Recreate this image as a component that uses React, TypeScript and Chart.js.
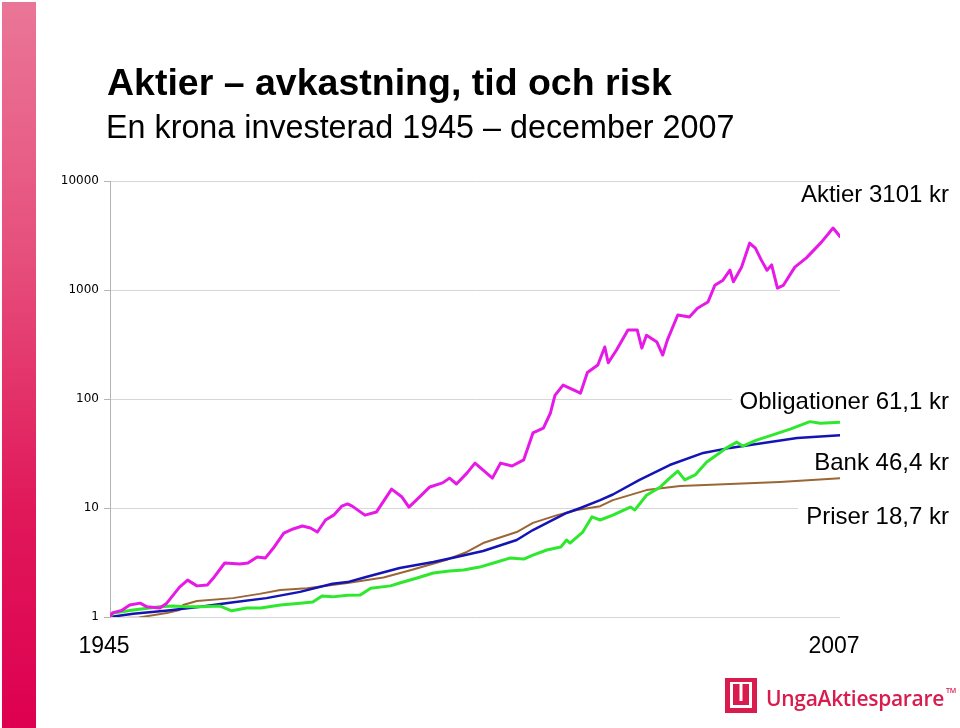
import React, { useEffect, useRef } from "react";
import { Chart, registerables } from "chart.js";

Chart.register(...registerables);

const FONT = '"Liberation Sans", Arial, Helvetica, sans-serif';

const titleText = "Aktier \u2013 avkastning, tid och risk";
const subtitleText = "En krona investerad 1945 \u2013 december 2007";

const yTickValues = [1, 10, 100, 1000, 10000];
const xTickYears = [1945, 2008];
const xTickLabels = ["1945", "2007"];

const seriesNames = ["Aktier", "Obligationer", "Bank", "Priser"];
const endLabels = ["Aktier 3101 kr", "Obligationer 61,1 kr", "Bank 46,4 kr", "Priser 18,7 kr"];
const seriesColors = ["#e619e6", "#2ee82e", "#1414b4", "#9a6636"];

const aktierYears = [
  1945.0, 1945.2, 1946.0, 1946.7, 1947.6, 1948.2, 1949.3, 1949.9, 1951.0, 1951.7,
  1952.5, 1953.4, 1954.0, 1954.9, 1956.2, 1956.9, 1957.7, 1958.4, 1959.1, 1960.0,
  1960.8, 1961.6, 1962.3, 1962.9, 1963.6, 1964.3, 1965.0, 1965.5, 1965.9, 1967.0,
  1968.0, 1969.3, 1970.2, 1970.8, 1971.7, 1972.6, 1973.7, 1974.3, 1974.9, 1975.8,
  1976.5, 1977.2, 1978.0, 1978.7, 1979.7, 1980.7, 1981.5, 1982.4, 1983.0, 1983.4,
  1984.1, 1985.0, 1985.6, 1986.2, 1987.1, 1987.7, 1988.0, 1988.7, 1989.7, 1990.5,
  1990.9, 1991.3, 1992.2, 1992.7, 1993.1, 1994.0, 1995.0, 1995.7, 1996.6, 1997.2,
  1997.9, 1998.5, 1998.8, 1999.5, 2000.2, 2000.7, 2001.2, 2001.7, 2002.1, 2002.6,
  2003.1, 2004.1, 2005.1, 2006.4, 2007.4, 2008.0,
];
const aktierValues = [
  1.0, 1.09, 1.15, 1.29, 1.34, 1.24, 1.21, 1.34, 1.88, 2.18,
  1.93, 1.97, 2.33, 3.13, 3.06, 3.13, 3.55, 3.47, 4.29, 5.89,
  6.42, 6.83, 6.55, 6.02, 7.76, 8.6, 10.4, 10.9, 10.4, 8.6,
  9.2, 14.9, 12.6, 10.2, 12.6, 15.6, 17.0, 18.8, 16.6, 20.9,
  25.8, 22.3, 18.8, 25.8, 24.3, 27.6, 48.8, 54, 74, 108,
  134, 121, 113, 175, 205, 300, 215, 280, 430, 430,
  293, 385, 333, 253, 347, 590, 565, 680, 775, 1105,
  1230, 1520, 1190, 1620, 2690, 2420, 1890, 1520, 1700, 1040,
  1100, 1620, 1970, 2750, 3700, 3101,
];

const obligYears = [
  1945.0, 1945.3, 1947.0, 1949.3, 1950.4, 1951.6, 1952.8, 1954.5, 1955.5, 1956.8,
  1958.0, 1959.7, 1961.4, 1962.5, 1963.3, 1964.2, 1965.5, 1966.6, 1967.5, 1969.2,
  1970.0, 1971.5, 1972.9, 1974.3, 1975.5, 1976.9, 1978.1, 1979.5, 1980.7, 1981.5,
  1982.7, 1983.9, 1984.4, 1984.7, 1985.8, 1986.6, 1987.3, 1988.4, 1989.9, 1990.3,
  1991.3, 1992.5, 1993.3, 1994.0, 1994.6, 1995.5, 1996.5, 1997.6, 1998.2, 1999.1,
  1999.6, 2000.8, 2002.2, 2003.7, 2005.4, 2006.3, 2008.0,
];
const obligValues = [
  1.0, 1.09, 1.16, 1.24, 1.26, 1.24, 1.24, 1.26, 1.14, 1.21,
  1.21, 1.29, 1.34, 1.37, 1.56, 1.53, 1.58, 1.59, 1.84, 1.93,
  2.05, 2.28, 2.53, 2.64, 2.70, 2.87, 3.13, 3.47, 3.40, 3.70,
  4.12, 4.38, 5.09, 4.77, 6.02, 8.3, 7.76, 8.6, 10.2, 9.6,
  13.1, 15.6, 18.8, 21.8, 18.1, 20.1, 26.4, 32, 35.6, 40.2,
  37, 42, 46.8, 53, 62, 60, 61.1,
];

const bankYears = [
  1945.0, 1947.0, 1950.0, 1952.8, 1955.5, 1958.5, 1961.4, 1964.2, 1965.5, 1967.1,
  1970.0, 1972.9, 1974.9, 1977.2, 1980.1, 1981.5, 1984.4, 1985.6, 1987.3, 1988.4,
  1990.7, 1993.3, 1996.2, 1998.5, 2001.4, 2004.3, 2008.0,
];
const bankValues = [
  1.0, 1.07, 1.15, 1.24, 1.36, 1.49, 1.70, 2.02, 2.09, 2.33,
  2.82, 3.2, 3.55, 4.03, 5.09, 6.28, 9.0, 10.0, 11.8, 13.3,
  18.1, 24.8, 32, 35.6, 39.4, 43.9, 46.4,
];

const priserYears = [
  1945.0, 1946.0, 1947.5, 1949.9, 1951.0, 1951.3, 1952.5, 1955.6, 1957.9, 1959.7,
  1962.0, 1965.5, 1968.6, 1971.0, 1974.0, 1975.8, 1977.2, 1980.1, 1981.5, 1983.6,
  1985.3, 1987.3, 1988.4, 1991.3, 1994.2, 1998.5, 2002.8, 2008.0,
];
const priserValues = [
  1.0, 0.98, 0.99, 1.09, 1.16, 1.29, 1.40, 1.49, 1.63, 1.77,
  1.84, 2.05, 2.3, 2.7, 3.33, 3.95, 4.77, 6.02, 7.3, 8.6,
  9.6, 10.4, 11.8, 14.6, 15.9, 16.6, 17.3, 18.7,
];

const toPoints = (xs: number[], ys: number[]) => xs.map((x, i) => ({ x, y: ys[i] }));

const labelBox: React.CSSProperties = {
  position: "absolute",
  right: 11,
  fontFamily: FONT,
  fontSize: 24,
  lineHeight: "24px",
  color: "#000",
  background: "#fff",
  paddingLeft: 8,
  whiteSpace: "nowrap",
};

function Logo() {
  return (
    <div style={{ position: "absolute", left: 725, top: 678, width: 230, height: 40 }}>
      <svg width="32" height="35" style={{ position: "absolute", left: 0, top: 0 }}>
        <rect x="0" y="0" width="32" height="35" fill="#d91c4d" />
        <rect x="5" y="4" width="3" height="26" fill="#fff" />
        <rect x="24" y="4" width="3" height="26" fill="#fff" />
        <rect x="5" y="27" width="22" height="3" fill="#fff" />
        <rect x="14.5" y="4" width="3" height="19" fill="#fff" />
        <rect x="8" y="4" width="16" height="2" fill="#fff" />
      </svg>
      <div
        style={{
          position: "absolute",
          left: 41,
          top: 8,
          fontFamily: '"Open Sans", sans-serif',
          fontWeight: 600,
          fontSize: 21,
          lineHeight: "24px",
          color: "#d91c4d",
          letterSpacing: -0.3,
          whiteSpace: "nowrap",
        }}
      >
        UngaAktiesparare
        <span style={{ fontSize: 7, verticalAlign: "top", marginLeft: 2, lineHeight: "10px" }}>TM</span>
      </div>
    </div>
  );
}

export default function App() {
  const canvasRef = useRef<HTMLCanvasElement | null>(null);

  useEffect(() => {
    const canvas = canvasRef.current;
    if (!canvas) return;
    const dataSets = [
      toPoints(aktierYears, aktierValues),
      toPoints(obligYears, obligValues),
      toPoints(bankYears, bankValues),
      toPoints(priserYears, priserValues),
    ];
    const widths = [3, 3, 2.5, 2];
    const chart = new Chart(canvas, {
      type: "line",
      data: {
        datasets: seriesNames.map((name, i) => ({
          label: name,
          data: dataSets[i],
          borderColor: seriesColors[i],
          backgroundColor: seriesColors[i],
          borderWidth: widths[i],
          pointRadius: 0,
          tension: 0,
          fill: false,
          borderJoinStyle: "round" as const,
          borderCapStyle: "round" as const,
        })),
      },
      options: {
        animation: false,
        responsive: false,
        devicePixelRatio: 1,
        layout: { padding: { left: 0, right: 120, top: 181, bottom: 0 } },
        plugins: {
          legend: { display: false },
          title: { display: false },
          tooltip: { enabled: false },
        },
        scales: {
          x: {
            type: "linear",
            min: 1945,
            max: 2008,
            afterBuildTicks: (scale: any) => {
              scale.ticks = xTickYears.map((v) => ({ value: v }));
            },
            afterFit: (scale: any) => {
              scale.height = 111;
            },
            grid: { display: false, drawTicks: false },
            border: { display: false },
            ticks: {
              autoSkip: false,
              maxRotation: 0,
              minRotation: 0,
              padding: 16,
              labelOffset: -6,
              color: "#000",
              font: { family: FONT, size: 23 },
              callback: (value: any) => {
                const idx = xTickYears.indexOf(Number(value));
                return idx >= 0 ? xTickLabels[idx] : "";
              },
            },
          },
          y: {
            type: "logarithmic",
            min: 1,
            max: 10000,
            afterBuildTicks: (scale: any) => {
              scale.ticks = yTickValues.map((v) => ({ value: v }));
            },
            afterFit: (scale: any) => {
              scale.width = 110;
            },
            grid: {
              color: "#d6d6d6",
              lineWidth: 1,
              tickLength: 6,
              tickColor: "#b4b4b4",
            },
            border: { display: true, color: "#b4b4b4", width: 1 },
            ticks: {
              autoSkip: false,
              padding: 5,
              color: "#000",
              font: { family: '"DejaVu Sans", Verdana, sans-serif', size: 12 },
              callback: (value: any) => String(value),
            },
          },
        },
      },
    });
    return () => chart.destroy();
  }, []);

  return (
    <div
      style={{
        position: "absolute",
        left: 0,
        top: 0,
        width: 960,
        height: 728,
        background: "#fff",
        overflow: "hidden",
      }}
    >
      <div
        style={{
          position: "absolute",
          left: 2,
          top: 2,
          width: 34,
          height: 726,
          background: "linear-gradient(to bottom, #ea7697 0%, #e64f7c 35%, #e0185a 70%, #de0050 100%)",
        }}
      />
      <canvas
        ref={canvasRef}
        width={960}
        height={728}
        style={{ position: "absolute", left: 0, top: 0, width: 960, height: 728 }}
      />
      <div
        style={{
          position: "absolute",
          left: 107,
          top: 64,
          fontFamily: FONT,
          fontWeight: 700,
          fontSize: 37.5,
          lineHeight: "37px",
          color: "#000",
          whiteSpace: "nowrap",
        }}
      >
        {titleText}
      </div>
      <div
        style={{
          position: "absolute",
          left: 106,
          top: 111,
          fontFamily: FONT,
          fontSize: 32.3,
          lineHeight: "32px",
          color: "#000",
          whiteSpace: "nowrap",
        }}
      >
        {subtitleText}
      </div>
      <div style={{ ...labelBox, top: 182 }}>{endLabels[0]}</div>
      <div style={{ ...labelBox, top: 389 }}>{endLabels[1]}</div>
      <div style={{ ...labelBox, top: 450 }}>{endLabels[2]}</div>
      <div style={{ ...labelBox, top: 504 }}>{endLabels[3]}</div>
      <Logo />
    </div>
  );
}
